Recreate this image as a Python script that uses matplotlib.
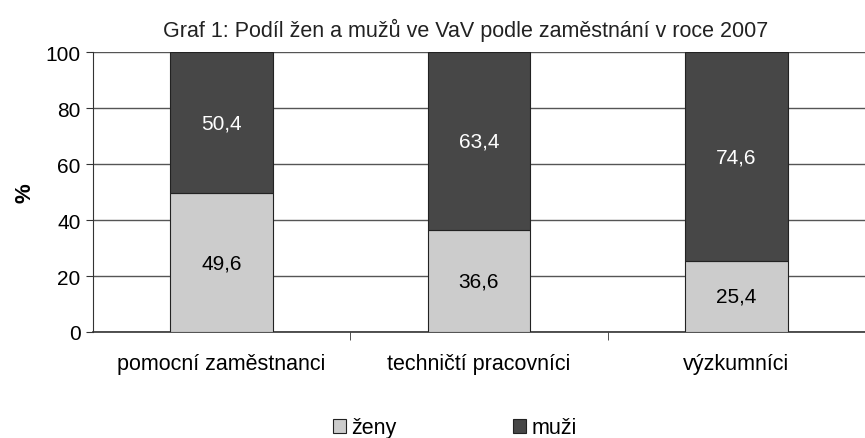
import matplotlib
matplotlib.use("Agg")
import matplotlib.pyplot as plt
import numpy as np

# data
categories = ["pomocní zaměstnanci", "techničtí pracovníci", "výzkumníci"]
zeny = [49.6, 36.6, 25.4]
muzi = [50.4, 63.4, 74.6]
zeny_labels = ["49,6", "36,6", "25,4"]
muzi_labels = ["50,4", "63,4", "74,6"]

plt.rcParams["font.family"] = ["Liberation Sans", "DejaVu Sans"]

fig = plt.figure(figsize=(8.65, 4.39), dpi=100)
ax = fig.add_axes([0.1075, 0.2415, 0.8925, 0.6375])

x = np.arange(len(categories))
b1 = ax.bar(x, zeny, width=0.4, color="#cccccc", edgecolor="#222222", linewidth=0.8, label="ženy", zorder=3)
b2 = ax.bar(x, muzi, width=0.4, bottom=zeny, color="#474747", edgecolor="#222222", linewidth=0.8, label="muži", zorder=3)

for i in range(len(categories)):
    ax.text(x[i], zeny[i] / 2, zeny_labels[i], ha="center", va="center", fontsize=15, color="black", zorder=4)
    ax.text(x[i], zeny[i] + muzi[i] / 2, muzi_labels[i], ha="center", va="center", fontsize=15, color="white", zorder=4)

ax.set_xlim(-0.5, 2.5)
ax.set_ylim(0, 100)
ax.set_yticks(range(0, 101, 20))
ax.yaxis.grid(True, color="#555555", linewidth=1, zorder=0)
ax.set_xticks(x)
ax.set_xticklabels(categories, fontsize=15.5)
ax.tick_params(axis="x", length=0, pad=15)
ax.set_xticks([0.5, 1.5], minor=True)
ax.tick_params(axis="x", which="minor", length=6, direction="out", color="#333333")
ax.tick_params(axis="y", labelsize=15, length=5, color="#333333", pad=4)

for s in ["top", "right"]:
    ax.spines[s].set_visible(False)
ax.spines["left"].set_color("#333333")
ax.spines["bottom"].set_color("#333333")
ax.spines["bottom"].set_linewidth(1.2)

ax.set_ylabel("%", fontsize=16, fontweight="bold")
ax.yaxis.set_label_coords(-0.075, 0.5)

fig.text(0.538, 0.93, "Graf 1: Podíl žen a mužů ve VaV podle zaměstnání v roce 2007",
         ha="center", va="center", fontsize=15.5, family=["Liberation Sans Narrow", "Liberation Sans", "DejaVu Sans"],
         color="#222222")

fig.legend(handles=[b1, b2], labels=["ženy", "muži"], loc="center", bbox_to_anchor=(0.526, 0.023),
           ncol=2, frameon=False, fontsize=15.5, handlelength=0.6, handleheight=0.6,
           handletextpad=0.25, columnspacing=5.4)

fig.savefig("out.png", dpi=100)
